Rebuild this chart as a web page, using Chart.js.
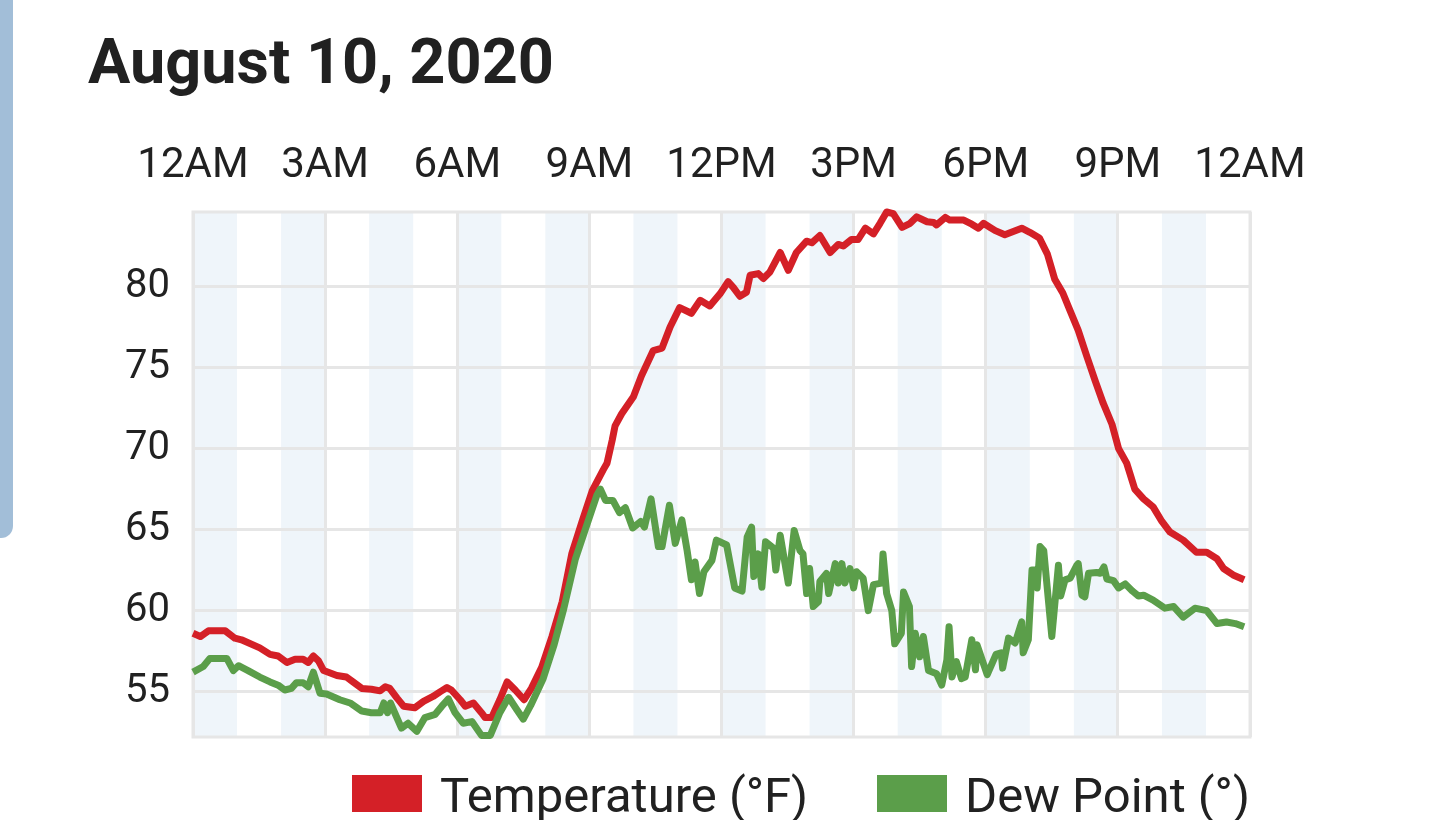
<!DOCTYPE html>
<html>
<head>
<meta charset="utf-8">
<script src="https://cdn.jsdelivr.net/npm/chart.js@4.4.1/dist/chart.umd.min.js"></script>
<style>
  html, body { margin: 0; padding: 0; background: #ffffff; overflow: hidden; width: 1440px; height: 820px; }
  #sidebar { position: absolute; left: 0; top: -20px; width: 13px; height: 558px; background: #a2bed8; border-bottom-right-radius: 12px; }
  #title { position: absolute; left: 88px; top: 30px; font-family: Roboto, sans-serif; font-weight: 700; font-size: 63px; line-height: 63px; color: #212121; white-space: nowrap; }
  #wrap { position: absolute; left: 0; top: 0; width: 1440px; height: 820px; }
  .lg-item { position: absolute; top: 775px; height: 37px; }
  .lg-box { position: absolute; left: 0; top: 0; width: 70px; height: 37px; }
  .lg-text { position: absolute; left: 88px; top: -4px; font-family: Roboto, sans-serif; font-size: 49px; line-height: 49px; color: #212121; white-space: nowrap; }
</style>
</head>
<body>
<div id="sidebar"></div>
<div id="title">August 10, 2020</div>
<div id="wrap"><canvas id="c"></canvas></div>
<div id="legend"></div>
<script>
// Times are minutes after midnight
const tickLabels = ['12AM','3AM','6AM','9AM','12PM','3PM','6PM','9PM','12AM'];
const yTicks = [55, 60, 65, 70, 75, 80];
const bandStarts = [0,120,240,360,480,600,720,840,960,1080,1200,1320];

const tempMinutes = [0,10,21,44,57,66,91,105,116,128,139,150,157,164,171,178,196,209,218,230,243,255,262,268,278,287,302,314,327,337,346,352,364,371,382,393,398,407,418,428,439,451,461,475,489,503,516,530,544,559,564,571,575,584,600,611,627,639,650,663,679,691,704,718,729,736,745,754,759,770,777,786,800,811,822,836,843,854,868,879,886,897,906,916,927,936,945,954,966,977,986,1000,1009,1013,1025,1031,1050,1061,1070,1077,1086,1093,1106,1129,1140,1153,1164,1174,1185,1195,1206,1218,1229,1240,1252,1261,1272,1283,1295,1308,1320,1331,1349,1367,1381,1395,1404,1417,1432];
const tempValues = [58.6,58.4,58.75,58.75,58.3,58.2,57.7,57.3,57.2,56.8,57.0,57.0,56.8,57.2,56.9,56.3,56.0,55.9,55.6,55.2,55.15,55.05,55.3,55.2,54.6,54.1,54.0,54.4,54.7,55.0,55.25,55.1,54.5,54.1,54.3,53.7,53.4,53.4,54.5,55.6,55.1,54.5,55.2,56.5,58.4,60.55,63.5,65.5,67.4,68.7,69.1,70.5,71.4,72.15,73.2,74.5,76.05,76.2,77.5,78.7,78.35,79.15,78.8,79.55,80.3,79.95,79.4,79.65,80.7,80.8,80.5,80.9,82.1,81.0,82.1,82.8,82.7,83.15,82.1,82.6,82.5,82.9,82.9,83.6,83.25,83.9,84.6,84.5,83.65,83.9,84.3,84.0,83.95,83.8,84.27,84.1,84.1,83.85,83.6,83.9,83.65,83.45,83.2,83.6,83.35,83.0,82.0,80.45,79.6,78.5,77.3,75.65,74.2,72.8,71.5,70.0,69.1,67.5,66.9,66.4,65.5,64.85,64.35,63.6,63.6,63.2,62.6,62.2,61.9];

const dewMinutes = [0,14,23,46,55,62,75,91,105,116,125,134,141,150,157,164,173,182,200,214,230,243,255,260,265,269,284,293,305,316,330,339,348,357,368,380,393,405,418,430,441,450,460,477,492,505,521,534,550,555,562,572,581,589,599,610,615,624,634,639,649,657,666,673,679,684,690,696,707,713,727,738,748,755,761,764,770,775,780,791,794,800,811,819,827,831,836,840,845,852,854,863,866,875,879,884,888,895,900,904,913,920,927,938,940,945,952,956,965,968,976,979,984,990,995,1002,1013,1020,1027,1030,1034,1040,1047,1052,1061,1066,1068,1082,1094,1101,1103,1111,1120,1129,1131,1138,1143,1147,1150,1154,1159,1170,1179,1182,1188,1195,1204,1206,1211,1215,1220,1231,1236,1241,1245,1254,1261,1270,1280,1288,1295,1308,1324,1336,1349,1365,1381,1395,1408,1420,1432];
const dewValues = [56.2,56.55,57.05,57.05,56.3,56.6,56.3,55.9,55.6,55.4,55.1,55.2,55.55,55.55,55.3,56.2,54.9,54.85,54.5,54.3,53.8,53.7,53.7,54.3,53.7,54.3,52.75,53.05,52.55,53.4,53.6,54.1,54.55,53.7,53.05,53.15,52.3,52.3,53.7,54.65,53.9,53.3,54.15,55.8,57.9,60.1,63.2,64.95,67.1,67.5,66.8,66.8,66.05,66.35,65.1,65.5,65.15,66.9,63.95,63.95,66.5,64.15,65.6,63.75,61.9,63.0,61.05,62.4,63.1,64.35,64.05,61.4,61.2,64.55,65.15,62.1,63.5,61.45,64.25,63.85,62.5,64.65,61.7,64.95,63.7,63.5,61.05,62.6,60.25,60.55,61.8,62.3,61.05,62.9,61.7,62.9,61.7,62.6,61.4,62.4,62.0,60.0,61.6,61.7,63.5,61.05,60.0,57.95,58.6,61.15,60.25,56.55,58.6,57.15,58.4,56.3,56.1,55.4,56.95,59.0,55.9,56.85,55.8,55.9,58.2,56.35,57.9,56.05,57.3,57.4,56.45,58.3,58.0,59.3,57.4,58.2,62.5,62.5,61.4,63.95,63.7,58.4,62.8,60.9,61.9,62.0,62.8,62.9,60.95,60.85,62.3,62.35,62.3,62.7,61.95,61.85,61.4,61.65,61.2,60.9,60.95,60.65,60.15,60.25,59.6,60.15,60.0,59.2,59.3,59.2,59.0];

const TEMP_COLOR = '#d42027';
const DEW_COLOR = '#5b9e4a';
const GRID_COLOR = '#e6e6e6';
const BAND_COLOR = '#eff5fa';
const TEXT_COLOR = '#212121';
const legendLefts = [352, 877];

const bandsPlugin = {
  id: 'hourBands',
  beforeDraw(chart) {
    const {ctx, chartArea: a, scales: {x}} = chart;
    ctx.save();
    ctx.fillStyle = BAND_COLOR;
    bandStarts.forEach(m => {
      const x0 = x.getPixelForValue(m);
      const x1 = x.getPixelForValue(m + 60);
      ctx.fillRect(x0, a.top, x1 - x0, a.bottom - a.top);
    });
    ctx.restore();
  },
  beforeDatasetsDraw(chart) {
    const {ctx, chartArea: a} = chart;
    ctx.save();
    ctx.strokeStyle = GRID_COLOR;
    ctx.lineWidth = 3;
    ctx.strokeRect(a.left, a.top, a.right - a.left, a.bottom - a.top);
    ctx.restore();
  }
};

const htmlLegendPlugin = {
  id: 'htmlLegend',
  afterUpdate(chart) {
    const el = document.getElementById('legend');
    el.innerHTML = '';
    chart.data.datasets.forEach((ds, i) => {
      const item = document.createElement('div');
      item.className = 'lg-item';
      item.style.left = legendLefts[i] + 'px';
      const box = document.createElement('div');
      box.className = 'lg-box';
      box.style.background = ds.borderColor;
      const txt = document.createElement('div');
      txt.className = 'lg-text';
      txt.textContent = ds.label;
      item.appendChild(box);
      item.appendChild(txt);
      el.appendChild(item);
    });
  }
};

new Chart(document.getElementById('c'), {
  type: 'line',
  data: {
    datasets: [
      {
        label: 'Temperature (°F)',
        data: tempMinutes.map((m, i) => ({x: m, y: tempValues[i]})),
        borderColor: TEMP_COLOR, backgroundColor: TEMP_COLOR,
        borderWidth: 7, pointRadius: 0, tension: 0, borderJoinStyle: 'round',
        clip: 10, order: 1
      },
      {
        label: 'Dew Point (°)',
        data: dewMinutes.map((m, i) => ({x: m, y: dewValues[i]})),
        borderColor: DEW_COLOR, backgroundColor: DEW_COLOR,
        borderWidth: 7, pointRadius: 0, tension: 0, borderJoinStyle: 'round',
        clip: 10, order: 0
      }
    ]
  },
  plugins: [bandsPlugin, htmlLegendPlugin],
  options: {
    responsive: true,
    maintainAspectRatio: false,
    animation: false,
    events: [],
    layout: { padding: { top: 120, left: 100, right: 190, bottom: 83 } },
    plugins: {
      tooltip: { enabled: false },
      title: { display: false },
      legend: { display: false }
    },
    scales: {
      x: {
        type: 'linear',
        position: 'top',
        min: 0, max: 1440,
        ticks: {
          stepSize: 180, autoSkip: false, maxRotation: 0,
          callback: (v) => tickLabels[Math.round(v / 180)],
          color: TEXT_COLOR, font: { family: 'Roboto', size: 42 }, padding: 20
        },
        grid: { color: GRID_COLOR, lineWidth: 3, drawTicks: false },
        border: { display: false },
        afterFit: (s) => { s.height = 92; }
      },
      y: {
        min: 52.2, max: 84.6,
        afterBuildTicks: (s) => { s.ticks = yTicks.map(v => ({value: v})); },
        ticks: { color: TEXT_COLOR, font: { family: 'Roboto', size: 40 }, padding: 23 },
        grid: { color: GRID_COLOR, lineWidth: 3, drawTicks: false },
        border: { display: false },
        afterFit: (s) => { s.width = 93; }
      }
    }
  }
});
</script>
</body>
</html>
